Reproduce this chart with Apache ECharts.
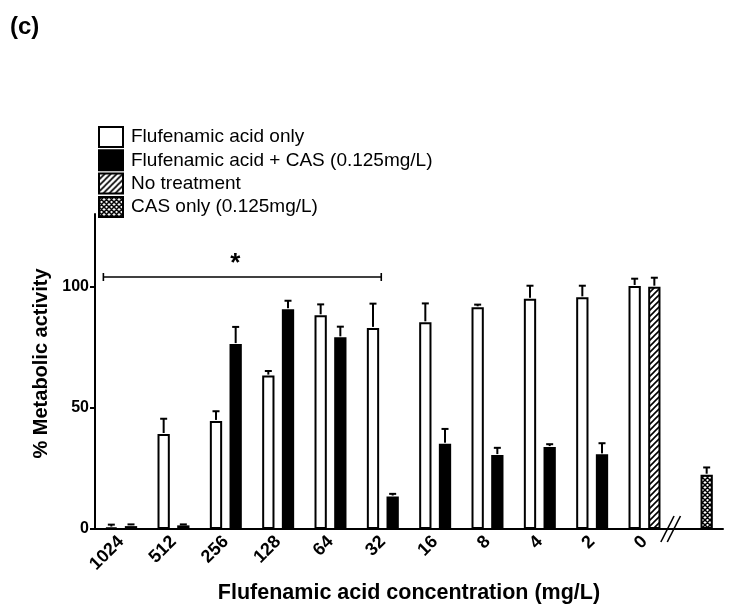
<!DOCTYPE html>
<html>
<head>
<meta charset="utf-8">
<script src="https://cdn.jsdelivr.net/npm/echarts@6/dist/echarts.min.js"></script>
<style>
html,body{margin:0;padding:0;background:#fff;}
#chart{width:729px;height:613px;}
</style>
</head>
<body>
<div id="chart"></div>
<script>
// ---- data ----
const categories = ['1024', '512', '256', '128', '64', '32', '16', '8', '4', '2', '0', ''];
const faOnly    = [0.6, 39.2, 44.6, 63.3, 88.2, 83.0, 85.3, 91.5, 95.0, 95.6, 100.3, '-'];
const faOnlyErr = [1.2, 6.3, 4.0, 1.9, 4.5, 10.0, 7.8, 1.1, 5.4, 4.8, 3.0, '-'];
const faCas     = [1.2, 1.5, 76.3, 90.7, 79.1, 13.4, 35.2, 30.5, 33.8, 30.8, '-', '-'];
const faCasErr  = [0.7, 0.4, 7.1, 3.5, 4.4, 1.1, 6.1, 3.0, 1.2, 4.6, '-', '-'];
const noTreat    = ['-', '-', '-', '-', '-', '-', '-', '-', '-', '-', 100.0, '-'];
const noTreatErr = ['-', '-', '-', '-', '-', '-', '-', '-', '-', '-', 3.7, '-'];
const casOnly    = ['-', '-', '-', '-', '-', '-', '-', '-', '-', '-', '-', 22.4];
const casOnlyErr = ['-', '-', '-', '-', '-', '-', '-', '-', '-', '-', '-', 3.0];
const yTicks = [0, 50, 100];
const sigBracket = [0, 5, 104];   // from category index, to category index, level
const axisBreak = [10, 11];       // break drawn between these categories
const names = ['Flufenamic acid only', 'Flufenamic acid + CAS (0.125mg/L)', 'No treatment', 'CAS only (0.125mg/L)'];

const FONT = "'Liberation Sans', Arial, Helvetica, sans-serif";
const BAR_W = 0.235;  // fraction of band
const BAR_GAP = 0.6;  // fraction of bar width

function makeHatch() {
  const c = document.createElement('canvas');
  c.width = 6; c.height = 6;
  const g = c.getContext('2d');
  g.fillStyle = '#fff'; g.fillRect(0, 0, 6, 6);
  g.strokeStyle = '#000'; g.lineWidth = 1.6;
  g.beginPath();
  g.moveTo(-1, 7); g.lineTo(7, -1);
  g.moveTo(-4, 4); g.lineTo(4, -4);
  g.moveTo(2, 10); g.lineTo(10, 2);
  g.stroke();
  return c;
}
function makeCross() {
  const c = document.createElement('canvas');
  c.width = 5; c.height = 5;
  const g = c.getContext('2d');
  g.fillStyle = '#fff'; g.fillRect(0, 0, 5, 5);
  g.strokeStyle = '#000'; g.lineWidth = 1.5;
  g.beginPath();
  g.moveTo(-1, 6); g.lineTo(6, -1);
  g.moveTo(-1, -1); g.lineTo(6, 6);
  g.moveTo(-3.5, 3.5); g.lineTo(3.5, -3.5);
  g.moveTo(1.5, 8.5); g.lineTo(8.5, 1.5);
  g.moveTo(-3.5, 1.5); g.lineTo(3.5, 8.5);
  g.moveTo(1.5, -3.5); g.lineTo(8.5, 3.5);
  g.stroke();
  return c;
}

// error bar data: [category, value, err, slot]
const errData = [];
function pushErr(vals, errs, slot) {
  vals.forEach((v, i) => {
    if (v !== '-' && errs[i] !== '-') errData.push([i, v, errs[i], slot]);
  });
}
pushErr(faOnly, faOnlyErr, -1);
pushErr(faCas, faCasErr, 1);
pushErr(noTreat, noTreatErr, 1);
pushErr(casOnly, casOnlyErr, 1);

function renderErr(params, api) {
  const ci = api.value(0), v = api.value(1), e = api.value(2), s = api.value(3);
  const band = api.size([1, 0])[0];
  const bw = band * BAR_W, gap = bw * BAR_GAP;
  const off = s * (bw + gap) / 2;
  const p0 = api.coord([ci, v]);
  const p1 = api.coord([ci, v + e]);
  const x = p0[0] + off;
  return {
    type: 'group',
    children: [
      { type: 'line', shape: { x1: x, y1: p0[1] - 1, x2: x, y2: p1[1] }, style: { stroke: '#000', lineWidth: 2 } },
      { type: 'line', shape: { x1: x - 3.5, y1: p1[1], x2: x + 3.5, y2: p1[1] }, style: { stroke: '#000', lineWidth: 2 } }
    ]
  };
}

function renderBracket(params, api) {
  const band = api.size([1, 0])[0];
  const pL = api.coord([api.value(0), api.value(2)]);
  const pR = api.coord([api.value(1), api.value(2)]);
  const xl = pL[0] - band * 0.34, xr = pR[0] - band * 0.03, y = pL[1];
  const st = { stroke: '#000', lineWidth: 1.6 };
  return {
    type: 'group',
    children: [
      { type: 'line', shape: { x1: xl, y1: y, x2: xr, y2: y }, style: st },
      { type: 'line', shape: { x1: xl, y1: y - 4, x2: xl, y2: y + 4 }, style: st },
      { type: 'line', shape: { x1: xr, y1: y - 4, x2: xr, y2: y + 4 }, style: st },
      { type: 'text', x: (xl + xr) / 2 - 7, y: y - 13,
        style: { text: '*', fill: '#000', font: 'bold 26px ' + FONT, textAlign: 'center', textVerticalAlign: 'middle' } }
    ]
  };
}

function renderBreak(params, api) {
  const a = api.coord([api.value(0), 0]);
  const b = api.coord([api.value(1), 0]);
  const mx = (a[0] + b[0]) / 2, y = a[1];
  const st = { stroke: '#000', lineWidth: 1.6 };
  return {
    type: 'group',
    children: [
      { type: 'line', shape: { x1: mx - 3.2 - 6.6, y1: y + 13, x2: mx - 3.2 + 6.6, y2: y - 13 }, style: st },
      { type: 'line', shape: { x1: mx + 3.2 - 6.6, y1: y + 13, x2: mx + 3.2 + 6.6, y2: y - 13 }, style: st }
    ]
  };
}

const chart = echarts.init(document.getElementById('chart'), null, { renderer: 'canvas' });
const hatch = { image: makeHatch(), repeat: 'repeat' };
const cross = { image: makeCross(), repeat: 'repeat' };
const barCommon = { type: 'bar', barWidth: (BAR_W * 100) + '%', barGap: (BAR_GAP * 100) + '%', animation: false };

chart.setOption({
  animation: false,
  backgroundColor: '#fff',
  title: {
    text: '(c)', left: 5, top: 10,
    textStyle: { fontFamily: FONT, fontWeight: 'bold', fontSize: 24, color: '#000' }
  },
  legend: {
    data: names,
    orient: 'vertical',
    left: 98, top: 126,
    padding: 0,
    itemWidth: 24, itemHeight: 20, itemGap: 1.3,
    selectedMode: false,
    icon: 'rect',
    textStyle: { fontFamily: FONT, fontSize: 19, color: '#000', padding: [0, 0, 0, 3] }
  },
  grid: { left: 95, right: 6, top: 214, bottom: 84, containLabel: false, outerBoundsMode: 'none' },
  xAxis: {
    type: 'category',
    data: categories,
    axisLine: { lineStyle: { color: '#000', width: 2 } },
    axisTick: { alignWithLabel: true, length: 5, lineStyle: { color: '#000', width: 2 } },
    axisLabel: { interval: 0, rotate: 45, margin: 10, fontFamily: FONT, fontWeight: 'bold', fontSize: 18, color: '#000' },
    name: 'Flufenamic acid concentration (mg/L)',
    nameLocation: 'middle',
    nameGap: 53,
    nameTextStyle: { fontFamily: FONT, fontWeight: 'bold', fontSize: 21.5, color: '#000' }
  },
  yAxis: {
    type: 'value',
    min: 0, max: 130, interval: 50,
    axisLine: { show: true, lineStyle: { color: '#000', width: 2 } },
    axisTick: { show: true, length: 5, lineStyle: { color: '#000', width: 2 }, customValues: yTicks },
    axisLabel: { margin: 6, fontFamily: FONT, fontWeight: 'bold', fontSize: 16, color: '#000', customValues: yTicks },
    splitLine: { show: false },
    name: '% Metabolic activity',
    nameLocation: 'middle',
    nameGap: 42,
    nameTextStyle: { fontFamily: FONT, fontWeight: 'bold', fontSize: 20, color: '#000', padding: [0, 0, 0, 16] }
  },
  series: [
    Object.assign({}, barCommon, { name: names[0], stack: 'a', data: faOnly,
      itemStyle: { color: '#fff', borderColor: '#000', borderWidth: 2 } }),
    Object.assign({}, barCommon, { name: names[1], stack: 'b', data: faCas,
      itemStyle: { color: '#000', borderColor: '#000', borderWidth: 2 } }),
    Object.assign({}, barCommon, { name: names[2], stack: 'b', data: noTreat,
      itemStyle: { color: hatch, borderColor: '#000', borderWidth: 2 } }),
    Object.assign({}, barCommon, { name: names[3], stack: 'b', data: casOnly,
      itemStyle: { color: cross, borderColor: '#000', borderWidth: 2 } }),
    { type: 'custom', name: 'err', data: errData, renderItem: renderErr, encode: { x: 0, y: 1 }, z: 5, clip: false, silent: true },
    { type: 'custom', name: 'bracket', data: [sigBracket], renderItem: renderBracket, encode: { x: 0, y: 2 }, z: 5, clip: false, silent: true },
    { type: 'custom', name: 'break', data: [axisBreak], renderItem: renderBreak, encode: { x: 0 }, z: 5, clip: false, silent: true }
  ]
});
</script>
</body>
</html>
